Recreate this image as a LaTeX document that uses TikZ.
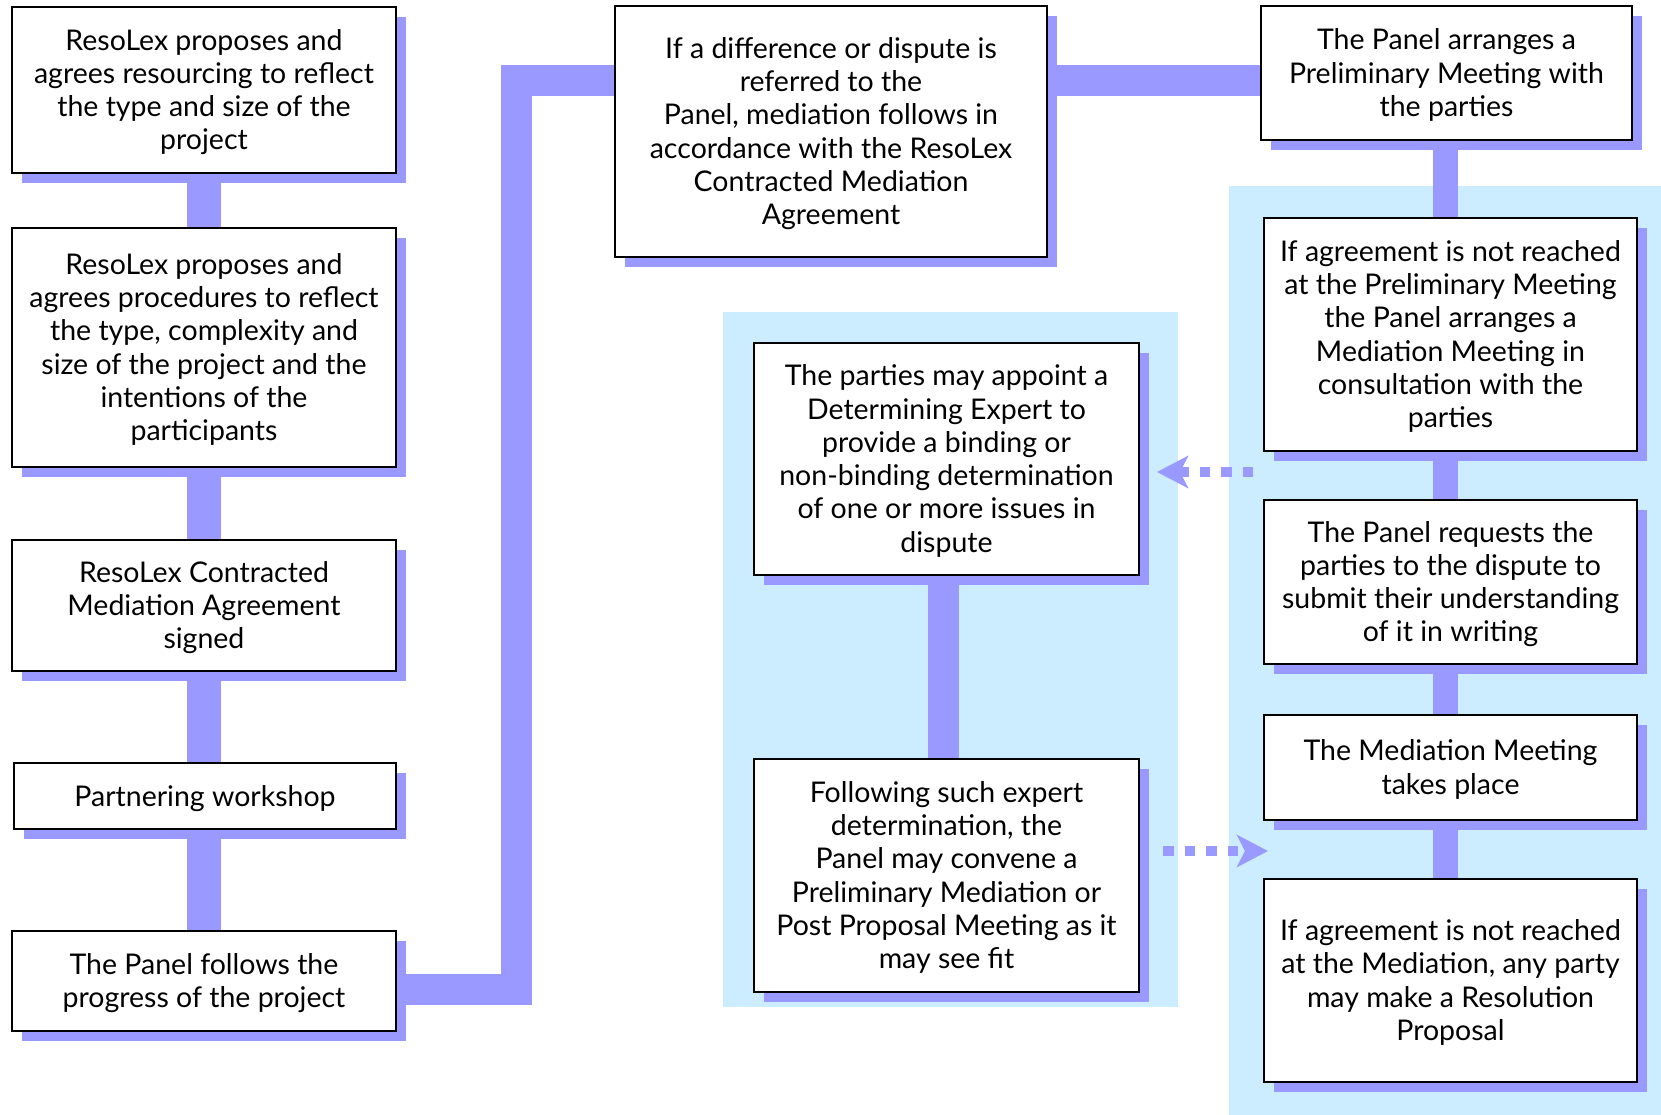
\documentclass[tikz,border=0pt]{standalone}
\usepackage{fontspec}
\setmainfont{Lato}
\usetikzlibrary{shadows,arrows.meta,calc}
\definecolor{purp}{RGB}{153,153,255}
\definecolor{lblue}{RGB}{204,236,255}
\pgfdeclarelayer{bg}
\pgfdeclarelayer{connl}
\pgfsetlayers{bg,connl,main}
\newcommand\boxtext[1]{\begin{tabular}{@{}c@{}}\rule{0pt}{30pt}#1\end{tabular}}
\begin{document}
\begin{tikzpicture}[x=1pt,y=-1pt,
  box/.style={draw=black, line width=2pt, fill=white, inner sep=0pt,
    font=\fontsize{28.5}{33.3}\selectfont,
    drop shadow={shadow xshift=10pt, shadow yshift=-10pt, fill=purp, opacity=1}},
  conn/.style={draw=purp, line cap=butt, line join=miter},
  dotarrow/.style={draw=purp, line width=10.5pt, line cap=butt, dash pattern=on 10.5pt off 11pt,
    -{Stealth[length=31pt, width=32pt, inset=8pt, fill=purp]}}]
\useasboundingbox (0,0) rectangle (1661,1115);
\begin{pgfonlayer}{bg}
  \fill[white] (0,0) rectangle (1661,1115);
  \fill[lblue] (723,312) rectangle (1178,1007);
  \fill[lblue] (1229,186) rectangle (1661,1115);
\end{pgfonlayer}

\node[box, minimum width=384pt, minimum height=166pt] (b1) at (204,90) {\boxtext{ResoLex proposes and\\agrees resourcing to reflect\\the type and size of the\\project}};
\node[box, minimum width=384pt, minimum height=239pt] (b2) at (204,347.5) {\boxtext{ResoLex proposes and\\agrees procedures to reflect\\the type, complexity and\\size of the project and the\\intentions of the\\participants}};
\node[box, minimum width=384pt, minimum height=131pt] (b3) at (204,605.5) {\boxtext{ResoLex Contracted\\Mediation Agreement\\signed}};
\node[box, minimum width=382pt, minimum height=66pt] (b4) at (205,796) {\boxtext{Partnering workshop}};
\node[box, minimum width=384pt, minimum height=100pt] (b5) at (204,981) {\boxtext{The Panel follows the\\progress of the project}};
\node[box, minimum width=432pt, minimum height=251pt] (m1) at (831,131.5) {\boxtext{If a difference or dispute is\\referred to the\\Panel, mediation follows in\\accordance with the ResoLex\\Contracted Mediation\\Agreement}};
\node[box, minimum width=371pt, minimum height=134pt] (r1) at (1446.5,73) {\boxtext{The Panel arranges a\\Preliminary Meeting with\\the parties}};
\node[box, minimum width=373pt, minimum height=233pt] (r2) at (1450.5,334.5) {\boxtext{If agreement is not reached\\at the Preliminary Meeting\\the Panel arranges a\\Mediation Meeting in\\consultation with the\\parties}};
\node[box, minimum width=373pt, minimum height=164pt] (r3) at (1450.5,582) {\boxtext{The Panel requests the\\parties to the dispute to\\submit their understanding\\of it in writing}};
\node[box, minimum width=373pt, minimum height=105pt] (r4) at (1450.5,767.5) {\boxtext{The Mediation Meeting\\takes place}};
\node[box, minimum width=373pt, minimum height=203pt] (r5) at (1450.5,980.5) {\boxtext{If agreement is not reached\\at the Mediation, any party\\may make a Resolution\\Proposal}};
\node[box, minimum width=385pt, minimum height=232pt] (na) at (946.5,459) {\boxtext{The parties may appoint a\\Determining Expert to\\provide a binding or\\non-binding determination\\of one or more issues in\\dispute}};
\node[box, minimum width=385pt, minimum height=233pt] (nb) at (946.5,875.5) {\boxtext{Following such expert\\determination, the\\Panel may convene a\\Preliminary Mediation or\\Post Proposal Meeting as it\\may see fit}};

\coordinate (j1) at (516.5,80.5);
\coordinate (j2) at (516.5,989);
\begin{pgfonlayer}{connl}
  \draw[conn, line width=34pt] (b1.center) -- (b5.center);
  \draw[conn, line width=31pt] (b5.center |- j2) -- (j2) -- (j1) -- (m1.center |- j1);
  \draw[conn, line width=31pt] (m1.center |- j1) -- (r1.center |- j1);
  \draw[conn, line width=25pt] ([xshift=-1pt]r1.center) -- ([xshift=-5pt]r5.center);
  \draw[conn, line width=31pt] ([xshift=-3pt]na.center) -- ([xshift=-3pt]nb.center);
\end{pgfonlayer}

\coordinate (ls) at (1253,472);
\coordinate (le) at (1157,472);
\coordinate (rs) at (1163,851);
\coordinate (re) at (1268,851);
\draw[dotarrow] (ls) -- (le);
\draw[dotarrow] (rs) -- (re);
\end{tikzpicture}
\end{document}
